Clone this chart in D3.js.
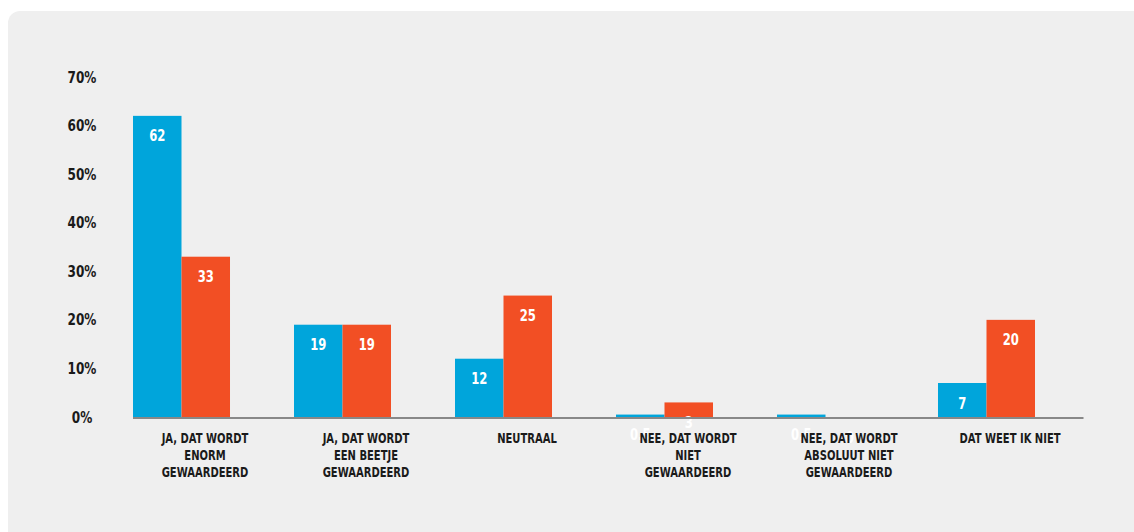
<!DOCTYPE html>
<html><head><meta charset="utf-8">
<script src="https://cdn.jsdelivr.net/npm/d3@7"></script>
<style>
html,body{margin:0;padding:0;background:#fff;}
svg{display:block;}
text{font-family:"DejaVu Sans",sans-serif;font-weight:bold;}
</style></head>
<body>
<svg id="c" width="1134" height="532"></svg>
<script>
const categories = [
  ["JA, DAT WORDT","ENORM","GEWAARDEERD"],
  ["JA, DAT WORDT","EEN BEETJE","GEWAARDEERD"],
  ["NEUTRAAL"],
  ["NEE, DAT WORDT","NIET","GEWAARDEERD"],
  ["NEE, DAT WORDT","ABSOLUUT NIET","GEWAARDEERD"],
  ["DAT WEET IK NIET"]
];
const seriesBlue = [62, 19, 12, 0.5, 0.5, 7];
const seriesOrange = [33, 19, 25, 3, 0, 20];
const yTicks = [0, 10, 20, 30, 40, 50, 60, 70];
const seriesNames = ["blue","orange"];
const colors = ["#00a5db", "#f24f24"];

const svg = d3.select("#c");
svg.append("rect").attr("x",8).attr("y",11).attr("width",1160).attr("height",560)
  .attr("rx",12).attr("fill","#efefef");

const idx = categories.map((d,i)=>i);
const x0 = d3.scaleBand().domain(idx).range([100.8, 1067.2]).paddingInner(0.3975).paddingOuter(0.2);
const x1 = d3.scaleBand().domain(seriesNames).range([0, x0.bandwidth()]);
const y = d3.scaleLinear().domain([0,70]).range([417, 77]);

// y labels
svg.append("g").selectAll("text").data(yTicks).join("text")
  .attr("transform",d=>`translate(82,${y(d)}) scale(0.78,1)`).attr("dy","0.36em").attr("text-anchor","middle")
  .attr("font-size",15.5).attr("fill","#1a1a1a").text(d=>d+"%");

const data = idx.map(i=>[seriesBlue[i], seriesOrange[i]]);
const groups = svg.append("g").selectAll("g").data(data).join("g")
  .attr("transform",(d,i)=>`translate(${x0(i)},0)`);
groups.selectAll("rect").data(d=>d.map((v,k)=>({v,k}))).join("rect")
  .attr("x",d=>x1(seriesNames[d.k])).attr("width",x1.bandwidth())
  .attr("y",d=>y(d.v)).attr("height",d=>y(0)-y(d.v)).attr("fill",d=>colors[d.k]);

// axis line
svg.append("line").attr("x1",x0(0)).attr("x2",x0(5)+x0.bandwidth()*1.5)
  .attr("y1",418).attr("y2",418).attr("stroke","#888").attr("stroke-width",2);

// value labels
groups.selectAll("text.v").data(d=>d.map((v,k)=>({v,k}))).join("text").attr("class","v")
  .attr("transform",d=>`translate(${x1(seriesNames[d.k])+x1.bandwidth()/2},${y(d.v)+20}) scale(0.75,1)`)
  .attr("dy","0.36em")
  .attr("text-anchor","middle").attr("font-size",15.5).attr("fill","#fff").text(d=>d.v);

// category labels (centred a little right of the bar pair, as in the original)
const cl = svg.append("g").selectAll("text").data(categories).join("text")
  .attr("transform",(d,i)=>`translate(${x0(i)+x0.bandwidth()/2+23.5},438) scale(0.69,1)`)
  .attr("text-anchor","middle")
  .attr("font-size",14.5).attr("fill","#1a1a1a");
cl.selectAll("tspan").data(d=>d).join("tspan")
  .attr("x",0)
  .attr("dy",(d,i)=>i===0?"0.36em":"17").text(d=>d);
</script>
</body></html>
